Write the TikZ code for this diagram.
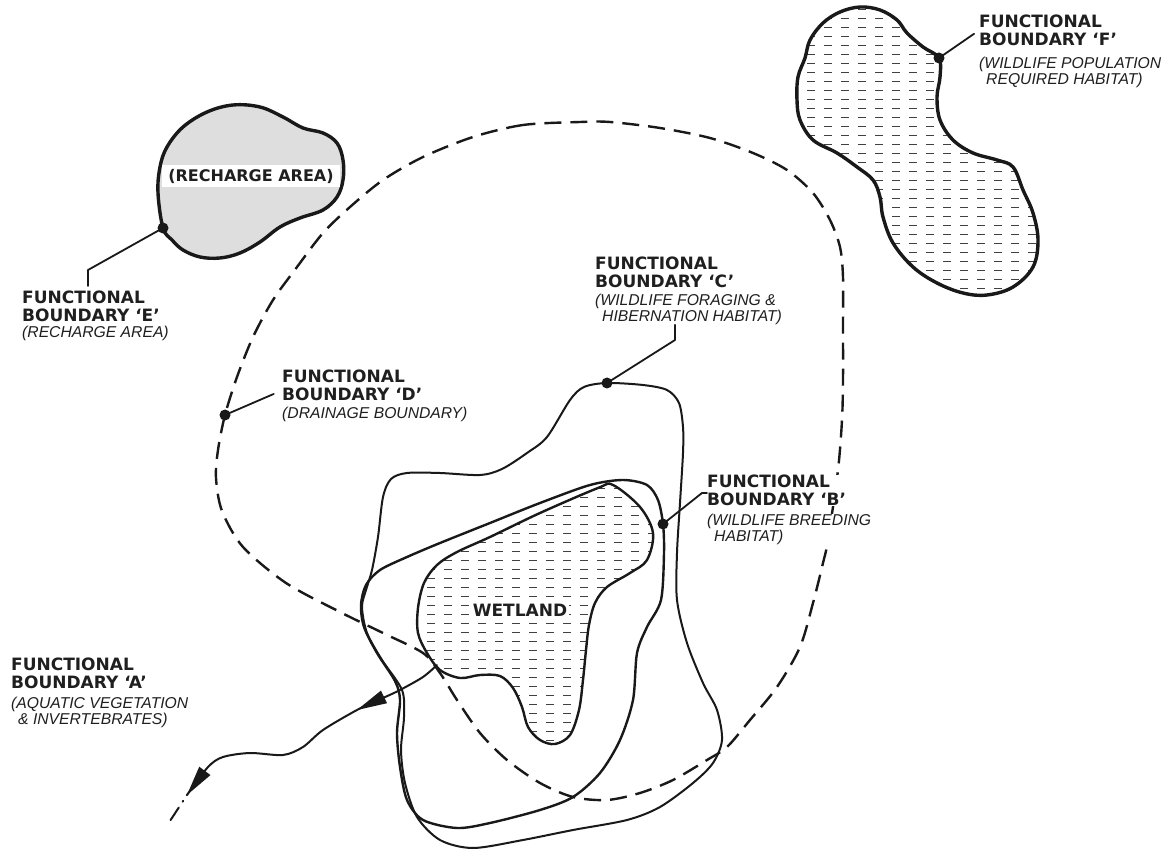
\documentclass[tikz,border=0pt]{standalone}
\usepackage{fontspec}
\setmainfont{DejaVu Sans}
\newfontfamily\subfont{Liberation Sans}
\usetikzlibrary{arrows.meta,positioning,calc}

\begin{document}
\begin{tikzpicture}[x=1pt,y=-1pt,
  every node/.style={text=black!88},
  ink/.style={black!90,line join=round,line cap=round},
  blob/.style={ink,line width=3.4pt},
  bnd/.style={ink,line width=2.2pt},
  drain/.style={ink,line width=2.4pt,line cap=butt,dash pattern=on 17pt off 9pt},
  hatch/.style={black!75,line width=1pt,line cap=butt,dash pattern=on 8pt off 9pt},
  lead/.style={ink,line width=1.8pt},
  fbdot/.style={circle,fill=black!90,minimum size=11pt,inner sep=0pt},
  ttl/.style={anchor=north west,align=left,inner sep=0pt,fill=white,font=\fontsize{17}{17.5}\selectfont\bfseries},
  sub/.style={anchor=north west,align=left,inner sep=0pt,fill=white,font=\subfont\itshape\fontsize{15.7}{16}\selectfont},
  flow/.style={ink,line width=2pt},
  tip/.style={fill=black!90}
]
\fill[white] (0,0) rectangle (1171,850);
\useasboundingbox (0,0) rectangle (1171,850);

% recharge area
\draw[blob,fill=black!13] plot[smooth cycle,tension=0.6] coordinates {(163,228) (158,193) (160,167) (167,147) (183,127) (207,112) (233,105) (260,107) (283,117) (303,128) (323,133) (337,143) (343,160) (343,180) (337,197) (323,210) (300,218) (280,227) (260,242) (240,253) (220,258) (200,257) (183,250) (172,240)};
\node[fill=white,inner xsep=6pt,inner ysep=4pt,font=\fontsize{16}{16}\selectfont\bfseries] (rch) at (251,176) {(RECHARGE AREA)};

% wildlife population habitat
\draw[blob,path picture={\foreach \hy in {10,19,...,300} \draw[hatch] (790,\hy) -- (1045,\hy);}] plot[smooth cycle,tension=0.6] coordinates {(939,58) (923,47) (907,33) (897,20) (880,10) (860,7) (840,12) (823,23) (810,40) (805,58) (798,77) (797,100) (800,120) (813,140) (837,153) (857,167) (873,180) (880,197) (883,217) (893,243) (913,267) (937,283) (963,293) (987,295) (1013,287) (1033,267) (1038,240) (1033,213) (1023,190) (1013,167) (997,160) (973,153) (953,140) (940,120) (937,97) (940,77)};

% wetland
\draw[bnd,line width=2.4pt,path picture={\foreach \hy in {488,497,...,748} \draw[hatch] (410,\hy) -- (660,\hy);}] plot[smooth cycle,tension=0.55] coordinates {(613,485) (640,507) (653,533) (647,560) (630,573) (607,587) (595,603) (589,625) (586,650) (583,680) (579,710) (570,735) (555,744) (540,740) (528,727) (522,707) (513,688) (500,676) (480,675) (460,678) (440,670) (427,653) (418,633) (418,608) (424,583) (437,565) (457,552) (490,537) (540,513) (598,488)};
\node[fill=white,inner sep=1.5pt,font=\fontsize{17}{17}\selectfont\bfseries] (wet) at (520,610) {WETLAND};

% breeding habitat
\draw[bnd,line width=2.4pt] plot[smooth cycle] coordinates {(663,524) (664,553) (661,600) (647,627) (637,653) (633,700) (620,740) (600,773) (573,797) (540,810) (490,823) (457,828) (423,820) (407,800) (400,767) (397,733) (400,700) (395,681) (377,653) (364,627) (361,605) (366,585) (380,570) (407,557) (440,543) (490,523) (540,503) (590,485) (623,480) (647,485) (658,500)};

% foraging habitat
\draw[bnd,line width=2pt] plot[smooth cycle] coordinates {(607,383) (643,385) (667,390) (679,403) (683,427) (683,453) (680,503) (677,553) (677,600) (687,643) (703,683) (717,710) (722,740) (713,763) (693,783) (660,807) (627,820) (573,830) (523,840) (473,848) (440,840) (417,817) (405,783) (401,750) (404,717) (402,690) (382,660) (367,633) (362,607) (366,590) (372,570) (378,537) (383,497) (391,479) (407,473) (440,473) (480,475) (502,469) (527,453) (547,437) (570,400) (584,387)};

% drainage boundary
\draw[drain] plot[smooth cycle] coordinates {(580,122) (523,125) (473,137) (423,157) (383,180) (350,207) (323,233) (297,267) (273,300) (253,337) (237,377) (225,415) (218,450) (216,478) (222,511) (243,547) (286,583) (340,612) (383,633) (423,653) (440,673) (457,700) (480,733) (507,760) (540,783) (573,797) (607,800) (640,793) (673,780) (707,760) (727,747) (750,720) (777,687) (800,647) (813,603) (823,563) (828,540) (838,470) (842,420) (843,380) (843,327) (843,277) (840,247) (830,220) (813,193) (787,170) (753,153) (710,138) (660,128) (610,122)};

% outflow
\draw[flow] plot[smooth] coordinates {(437,665) (423,677) (400,690) (383,698) (357,710) (323,730) (303,747) (283,755) (250,753) (223,757) (208,767) (187,795)};
\coordinate (f1) at (390,694);
\coordinate (f2) at (357,710);
\coordinate (f3) at (207,768);
\coordinate (f4) at (187,795);
\coordinate (b1) at ($(f2)!30pt!(f1)$);
\coordinate (b2) at ($(f4)!30pt!(f3)$);
\fill[tip] (f2) -- ($(b1)!7pt!90:(f2)$) -- ($(b1)!7pt!-90:(f2)$) -- cycle;
\fill[tip] (f4) -- ($(b2)!7pt!90:(f4)$) -- ($(b2)!7pt!-90:(f4)$) -- cycle;
\draw[ink,line width=2pt,dash pattern=on 0pt off 7pt on 1pt off 7pt on 15pt off 30pt] (f4) -- (168,824);

% labels
\node[ttl] (tA) at (11,658) {FUNCTIONAL\\BOUNDARY ‘A’};
\node[sub,below=8pt of tA.south west,anchor=north west] (sA) {(AQUATIC VEGETATION\\\hspace*{7pt}\& INVERTEBRATES)};

\node[ttl] (tB) at (707,475) {FUNCTIONAL\\BOUNDARY ‘B’};
\node[sub,below=8pt of tB.south west,anchor=north west] (sB) {(WILDLIFE BREEDING\\\hspace*{7pt}HABITAT)};

\node[ttl] (tC) at (595,257) {FUNCTIONAL\\BOUNDARY ‘C’};
\node[sub,below=6pt of tC.south west,anchor=north west] (sC) {(WILDLIFE FORAGING \&\\\hspace*{7pt}HIBERNATION HABITAT)};

\node[ttl] (tD) at (282,370) {FUNCTIONAL\\BOUNDARY ‘D’};
\node[sub,below=6pt of tD.south west,anchor=north west] (sD) {(DRAINAGE BOUNDARY)};

\node[ttl] (tE) at (22,291) {FUNCTIONAL\\BOUNDARY ‘E’};
\node[sub,below=4pt of tE.south west,anchor=north west] (sE) {(RECHARGE AREA)};

\node[ttl] (tF) at (979,15) {FUNCTIONAL\\BOUNDARY ‘F’};
\node[sub,below=11pt of tF.south west,anchor=north west] (sF) {(WILDLIFE POPULATION\\\hspace*{7pt}REQUIRED HABITAT)};

% leaders
\node[fbdot] (dB) at (663,524) {};
\node[fbdot] (dC) at (607,383) {};
\node[fbdot] (dD) at (225,415) {};
\node[fbdot] (dE) at (163,228) {};
\node[fbdot] (dF) at (939,58) {};
\coordinate (kB) at (702,493);
\coordinate (kC) at (675,340);
\coordinate (kE) at (88,270);
\draw[lead] (dB.center) -- (kB) -- (kB -| tB.west);
\draw[lead] (dC.center) -- (kC) -- (kC |- sC.south);
\draw[lead,shorten >=9pt] (dD.center) -- ([yshift=-5pt]tD.west);
\draw[lead,shorten >=5pt] (dE.center) -- (kE) -- (kE |- tE.north);
\draw[lead,shorten >=6pt] (dF.center) -- (tF.west);
\end{tikzpicture}
\end{document}
